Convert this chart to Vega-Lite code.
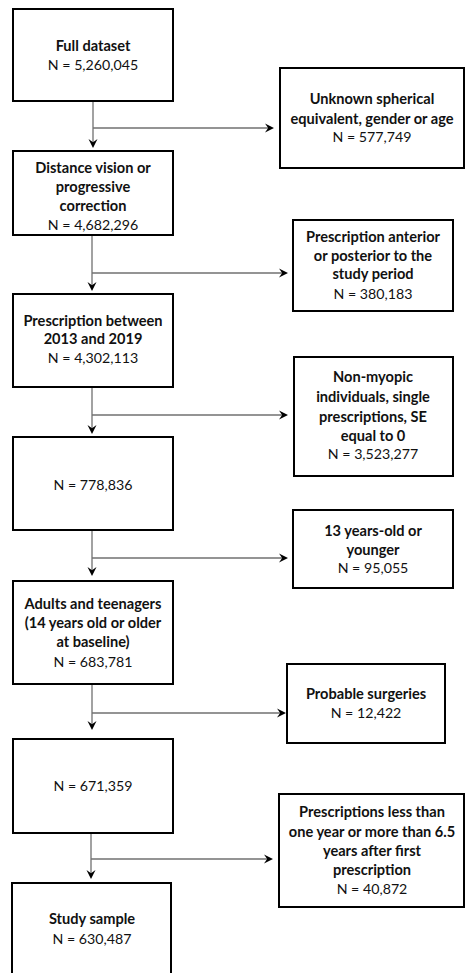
{
  "$schema": "https://vega.github.io/schema/vega-lite/v6.json",
  "width": 465,
  "height": 973,
  "padding": 0,
  "autosize": {"type": "none"},
  "background": "white",
  "config": {"view": {"stroke": null}},
  "datasets": {
    "boxes": [
      {"id": "L1", "x1": 13, "x2": 173, "y1": 9, "y2": 101},
      {"id": "L2", "x1": 13, "x2": 173, "y1": 151, "y2": 235},
      {"id": "L3", "x1": 13, "x2": 173, "y1": 294, "y2": 387},
      {"id": "L4", "x1": 13, "x2": 173, "y1": 437, "y2": 530},
      {"id": "L5", "x1": 13, "x2": 173, "y1": 581, "y2": 684},
      {"id": "L6", "x1": 13, "x2": 173, "y1": 739, "y2": 833},
      {"id": "L7", "x1": 12, "x2": 171, "y1": 883, "y2": 985},
      {"id": "S1", "x1": 280, "x2": 464, "y1": 68, "y2": 168},
      {"id": "S2", "x1": 293, "x2": 453, "y1": 220, "y2": 311},
      {"id": "S3", "x1": 294, "x2": 453, "y1": 357, "y2": 476},
      {"id": "S4", "x1": 293, "x2": 453, "y1": 510, "y2": 588},
      {"id": "S5", "x1": 287, "x2": 445, "y1": 664, "y2": 743},
      {"id": "S6", "x1": 279, "x2": 464, "y1": 794, "y2": 907}
    ],
    "links": [
      {"dir": "down", "x1": 93, "x2": 93, "y1": 101, "y2": 145},
      {"dir": "down", "x1": 92, "x2": 92, "y1": 235, "y2": 288},
      {"dir": "down", "x1": 92, "x2": 92, "y1": 387, "y2": 431},
      {"dir": "down", "x1": 92, "x2": 92, "y1": 530, "y2": 573},
      {"dir": "down", "x1": 92, "x2": 92, "y1": 684, "y2": 727},
      {"dir": "down", "x1": 91, "x2": 91, "y1": 833, "y2": 876},
      {"dir": "right", "x1": 93, "x2": 271, "y1": 128, "y2": 128},
      {"dir": "right", "x1": 92, "x2": 285, "y1": 273, "y2": 273},
      {"dir": "right", "x1": 92, "x2": 285, "y1": 415, "y2": 415},
      {"dir": "right", "x1": 92, "x2": 285, "y1": 558, "y2": 558},
      {"dir": "right", "x1": 92, "x2": 283, "y1": 713, "y2": 713},
      {"dir": "right", "x1": 91, "x2": 270, "y1": 859, "y2": 859}
    ],
    "arrows": [
      {"dir": "down", "x": 93, "y": 148},
      {"dir": "down", "x": 92, "y": 291},
      {"dir": "down", "x": 92, "y": 434},
      {"dir": "down", "x": 92, "y": 576},
      {"dir": "down", "x": 92, "y": 730},
      {"dir": "down", "x": 91, "y": 879},
      {"dir": "right", "x": 274, "y": 128},
      {"dir": "right", "x": 288, "y": 273},
      {"dir": "right", "x": 288, "y": 415},
      {"dir": "right", "x": 288, "y": 558},
      {"dir": "right", "x": 286, "y": 713},
      {"dir": "right", "x": 273, "y": 859}
    ],
    "labels": [
      {"x": 93, "y": 47, "t": "Full dataset", "w": "b"},
      {"x": 93, "y": 66, "t": "N = 5,260,045", "w": "n"},
      {"x": 372, "y": 100, "t": "Unknown spherical", "w": "b"},
      {"x": 372, "y": 120, "t": "equivalent, gender or age", "w": "b"},
      {"x": 372, "y": 138, "t": "N = 577,749", "w": "n"},
      {"x": 93, "y": 169, "t": "Distance vision or", "w": "b"},
      {"x": 93, "y": 188, "t": "progressive", "w": "b"},
      {"x": 93, "y": 207, "t": "correction", "w": "b"},
      {"x": 93, "y": 226, "t": "N = 4,682,296", "w": "n"},
      {"x": 373, "y": 238, "t": "Prescription anterior", "w": "b"},
      {"x": 373, "y": 257, "t": "or posterior to the", "w": "b"},
      {"x": 373, "y": 275, "t": "study period", "w": "b"},
      {"x": 373, "y": 295, "t": "N = 380,183", "w": "n"},
      {"x": 93, "y": 322, "t": "Prescription between", "w": "b"},
      {"x": 93, "y": 340, "t": "2013 and 2019", "w": "b"},
      {"x": 93, "y": 359, "t": "N = 4,302,113", "w": "n"},
      {"x": 373, "y": 378, "t": "Non-myopic", "w": "b"},
      {"x": 373, "y": 398, "t": "individuals, single", "w": "b"},
      {"x": 373, "y": 418, "t": "prescriptions, SE", "w": "b"},
      {"x": 373, "y": 437, "t": "equal to 0", "w": "b"},
      {"x": 373, "y": 455, "t": "N = 3,523,277", "w": "n"},
      {"x": 93, "y": 486, "t": "N = 778,836", "w": "n"},
      {"x": 373, "y": 532, "t": "13 years-old or", "w": "b"},
      {"x": 373, "y": 551, "t": "younger", "w": "b"},
      {"x": 373, "y": 569, "t": "N = 95,055", "w": "n"},
      {"x": 93, "y": 605, "t": "Adults and teenagers", "w": "b"},
      {"x": 93, "y": 624, "t": "(14 years old or older", "w": "b"},
      {"x": 93, "y": 643, "t": "at baseline)", "w": "b"},
      {"x": 93, "y": 663, "t": "N = 683,781", "w": "n"},
      {"x": 366, "y": 695, "t": "Probable surgeries", "w": "b"},
      {"x": 366, "y": 714, "t": "N = 12,422", "w": "n"},
      {"x": 93, "y": 787, "t": "N = 671,359", "w": "n"},
      {"x": 372, "y": 813, "t": "Prescriptions less than", "w": "b"},
      {"x": 372, "y": 833, "t": "one year or more than 6.5", "w": "b"},
      {"x": 372, "y": 852, "t": "years after first", "w": "b"},
      {"x": 372, "y": 871, "t": "prescription", "w": "b"},
      {"x": 372, "y": 890, "t": "N = 40,872", "w": "n"},
      {"x": 92, "y": 920, "t": "Study sample", "w": "b"},
      {"x": 92, "y": 940, "t": "N = 630,487", "w": "n"}
    ]
  },
  "layer": [
    {
      "data": {"name": "links"},
      "mark": {"type": "rule", "stroke": "#707070", "strokeWidth": 1.3},
      "encoding": {
        "x": {"field": "x1", "type": "quantitative", "scale": {"domain": [0, 465], "nice": false, "zero": false}, "axis": null},
        "x2": {"field": "x2"},
        "y": {"field": "y1", "type": "quantitative", "scale": {"domain": [0, 973], "nice": false, "zero": false, "reverse": true}, "axis": null},
        "y2": {"field": "y2"}
      }
    },
    {
      "data": {"name": "boxes"},
      "mark": {"type": "rect", "fill": "white", "stroke": "black", "strokeWidth": 2},
      "encoding": {
        "x": {"field": "x1", "type": "quantitative", "scale": {"domain": [0, 465], "nice": false, "zero": false}, "axis": null},
        "x2": {"field": "x2"},
        "y": {"field": "y1", "type": "quantitative", "scale": {"domain": [0, 973], "nice": false, "zero": false, "reverse": true}, "axis": null},
        "y2": {"field": "y2"}
      }
    },
    {
      "data": {"name": "arrows"},
      "transform": [{"filter": "datum.dir === 'down'"}],
      "mark": {"type": "point", "shape": "M0,0 L-1,-2 L0,-1.3 L1,-2 Z", "filled": true, "fill": "black", "stroke": null, "size": 81, "opacity": 1},
      "encoding": {
        "x": {"field": "x", "type": "quantitative", "scale": {"domain": [0, 465], "nice": false, "zero": false}, "axis": null},
        "y": {"field": "y", "type": "quantitative", "scale": {"domain": [0, 973], "nice": false, "zero": false, "reverse": true}, "axis": null}
      }
    },
    {
      "data": {"name": "arrows"},
      "transform": [{"filter": "datum.dir === 'right'"}],
      "mark": {"type": "point", "shape": "M0,0 L-2,-1 L-1.3,0 L-2,1 Z", "filled": true, "fill": "black", "stroke": null, "size": 81, "opacity": 1},
      "encoding": {
        "x": {"field": "x", "type": "quantitative", "scale": {"domain": [0, 465], "nice": false, "zero": false}, "axis": null},
        "y": {"field": "y", "type": "quantitative", "scale": {"domain": [0, 973], "nice": false, "zero": false, "reverse": true}, "axis": null}
      }
    },
    {
      "data": {"name": "labels"},
      "transform": [{"filter": "datum.w === 'b'"}],
      "mark": {"type": "text", "font": "Lato", "fontSize": 14.6, "fontWeight": "bold", "align": "center", "baseline": "middle", "color": "#111"},
      "encoding": {
        "x": {"field": "x", "type": "quantitative", "scale": {"domain": [0, 465], "nice": false, "zero": false}, "axis": null},
        "y": {"field": "y", "type": "quantitative", "scale": {"domain": [0, 973], "nice": false, "zero": false, "reverse": true}, "axis": null},
        "text": {"field": "t"}
      }
    },
    {
      "data": {"name": "labels"},
      "transform": [{"filter": "datum.w === 'n'"}],
      "mark": {"type": "text", "font": "Lato", "fontSize": 14.2, "fontWeight": "normal", "align": "center", "baseline": "middle", "color": "#111"},
      "encoding": {
        "x": {"field": "x", "type": "quantitative", "scale": {"domain": [0, 465], "nice": false, "zero": false}, "axis": null},
        "y": {"field": "y", "type": "quantitative", "scale": {"domain": [0, 973], "nice": false, "zero": false, "reverse": true}, "axis": null},
        "text": {"field": "t"}
      }
    }
  ]
}
